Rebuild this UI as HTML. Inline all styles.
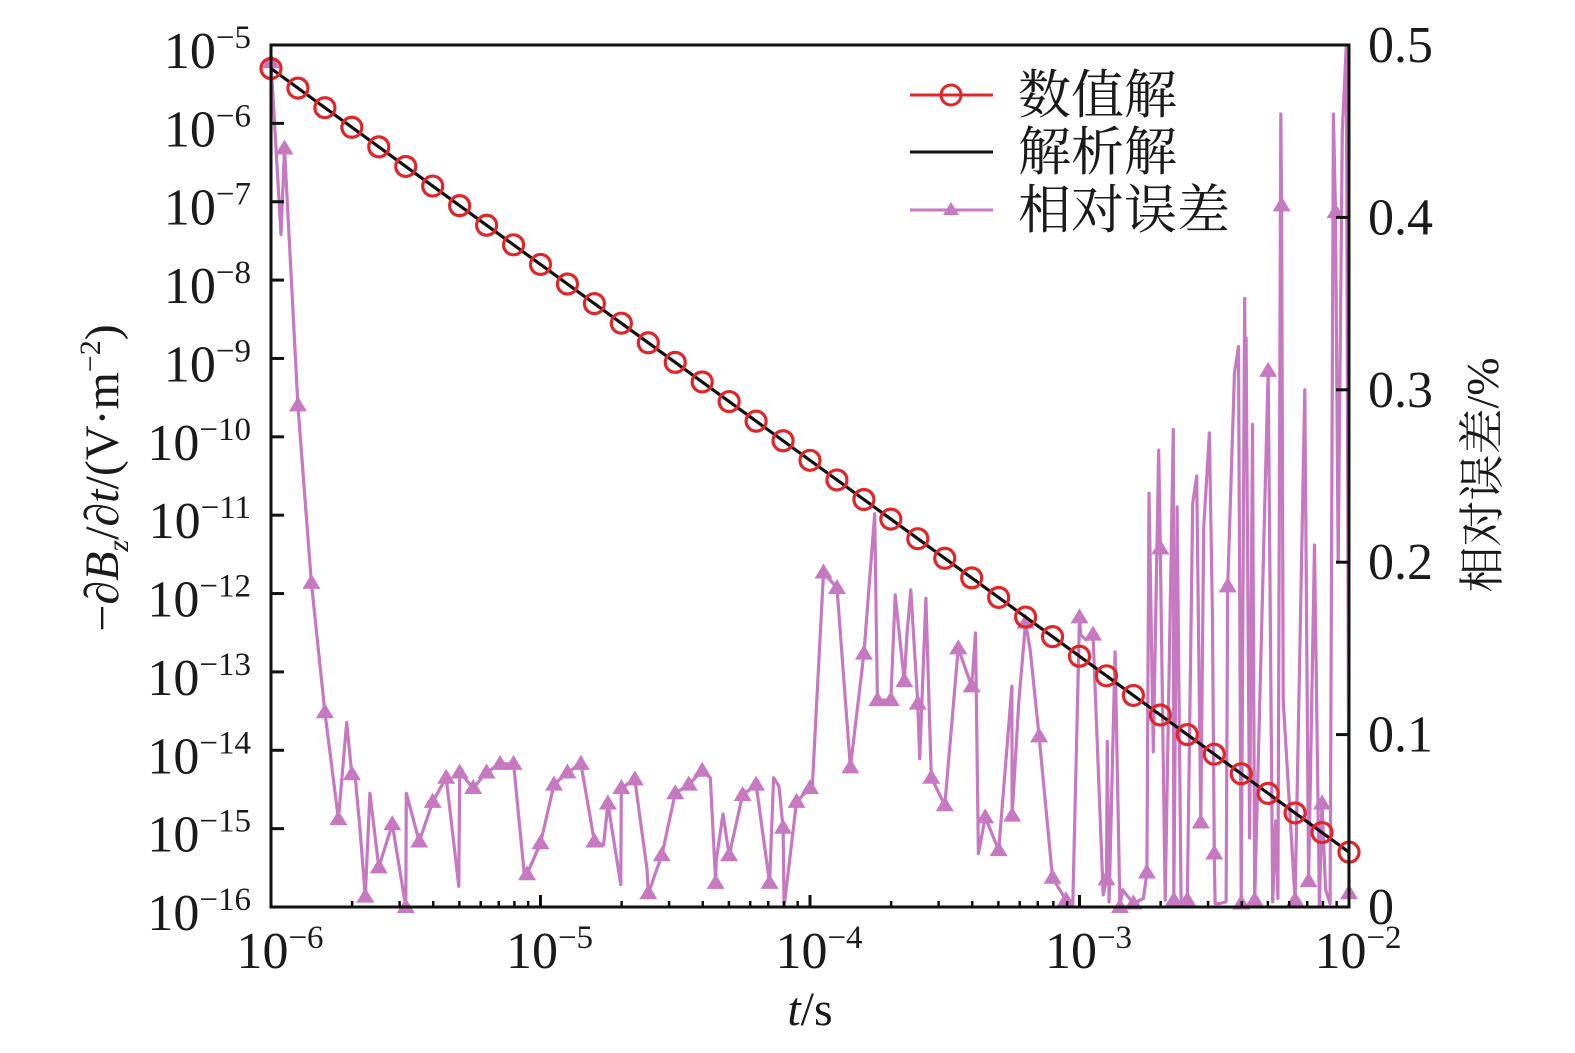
<!DOCTYPE html>
<html><head><meta charset="utf-8"><style>
html,body{margin:0;padding:0;background:#fff;}
svg{display:block;}
text{font-family:"Liberation Serif","Noto Serif CJK SC",serif;fill:#1a1a1a;}
</style></head><body>
<svg id="chart" width="1575" height="1053" viewBox="0 0 1575 1053" xmlns="http://www.w3.org/2000/svg">
<g id="grid"></g>
<g id="series"></g>
<g id="axes"></g>
<text transform="translate(118,478) rotate(-90)" text-anchor="middle" font-size="48">−∂<tspan font-style="italic">B</tspan><tspan font-style="italic" font-size="30" dy="10">z</tspan><tspan dy="-10">/∂</tspan><tspan font-style="italic">t</tspan>/(V·m<tspan font-size="30" dy="-18">−2</tspan><tspan dy="18">)</tspan></text>
<text transform="translate(1498,475) rotate(-90)" text-anchor="middle" font-size="46">相对误差/%</text>
<text x="810" y="1025" text-anchor="middle" font-size="48"><tspan font-style="italic">t</tspan>/s</text>
<g id="legend">
 <g>
  <line x1="910" y1="95" x2="993" y2="95" stroke="#e0262a" stroke-width="3"/>
  <circle cx="951" cy="95" r="10" fill="none" stroke="#e0262a" stroke-width="3"/>
  <text x="1018" y="113" font-size="53">数值解</text>
 </g>
 <g>
  <line x1="910" y1="152" x2="993" y2="152" stroke="#111" stroke-width="3"/>
  <text x="1018" y="170" font-size="53">解析解</text>
 </g>
 <g>
  <line x1="910" y1="210" x2="993" y2="210" stroke="#c678c0" stroke-width="3"/>
  <polygon points="951,202 943,215 959,215" fill="#c678c0"/>
  <text x="1018" y="228" font-size="53">相对误差</text>
 </g>
</g>
</svg>
<script>
// ---- data ----
const numLogT = [-6,-5.9,-5.8,-5.7,-5.6,-5.5,-5.4,-5.3,-5.2,-5.1,-5,-4.9,-4.8,-4.7,-4.6,-4.5,-4.4,-4.3,-4.2,-4.1,-4,-3.9,-3.8,-3.7,-3.6,-3.5,-3.4,-3.3,-3.2,-3.1,-3,-2.9,-2.8,-2.7,-2.6,-2.5,-2.4,-2.3,-2.2,-2.1,-2];
const numLogV = [-5.3,-5.55,-5.8,-6.05,-6.3,-6.55,-6.8,-7.05,-7.3,-7.55,-7.8,-8.05,-8.3,-8.55,-8.8,-9.05,-9.3,-9.55,-9.8,-10.05,-10.3,-10.55,-10.8,-11.05,-11.3,-11.55,-11.8,-12.05,-12.3,-12.55,-12.8,-13.05,-13.3,-13.55,-13.8,-14.05,-14.3,-14.55,-14.8,-15.05,-15.3];
const anaLogT = [-6,-2];
const anaLogV = [-5.3,-15.3];
const errMarkLogT = [-6,-5.95,-5.9,-5.85,-5.8,-5.75,-5.7,-5.65,-5.6,-5.55,-5.5,-5.45,-5.4,-5.35,-5.3,-5.25,-5.2,-5.15,-5.1,-5.05,-5,-4.95,-4.9,-4.85,-4.8,-4.75,-4.7,-4.65,-4.6,-4.55,-4.5,-4.45,-4.4,-4.35,-4.3,-4.25,-4.2,-4.15,-4.1,-4.05,-4,-3.95,-3.9,-3.85,-3.8,-3.75,-3.7,-3.65,-3.6,-3.55,-3.5,-3.45,-3.4,-3.35,-3.3,-3.25,-3.2,-3.15,-3.1,-3.05,-3,-2.95,-2.9,-2.85,-2.8,-2.75,-2.7,-2.65,-2.6,-2.55,-2.5,-2.45,-2.4,-2.35,-2.3,-2.25,-2.2,-2.15,-2.1,-2.05,-2];
const errMarkVal = [0.49,0.44,0.291,0.188,0.113,0.051,0.077,0.006,0.023,0.048,0,0.038,0.061,0.075,0.078,0.069,0.078,0.083,0.083,0.019,0.037,0.071,0.078,0.083,0.038,0.06,0.069,0.074,0.008,0.030,0.066,0.071,0.079,0.014,0.030,0.065,0.071,0.014,0.046,0.061,0.069,0.194,0.185,0.081,0.147,0.12,0.12,0.131,0.118,0.075,0.059,0.15,0.128,0.052,0.033,0.053,0.165,0.099,0.017,0.004,0.168,0.158,0.016,0.0,0.002,0.02,0.208,0.004,0.004,0.049,0.031,0.186,0.002,0.004,0.311,0.407,0.004,0.015,0.06,0.403,0.008];
const errExtraLogT = [-5.963,-5.719,-5.689,-5.671,-5.633,-5.498,-5.303,-5.060,-4.766,-4.702,-4.605,-4.370,-4.348,-4.323,-4.135,-4.115,-4.096,-3.991,-3.760,-3.684,-3.641,-3.626,-3.593,-3.570,-3.386,-3.375,-3.251,-3.225,-3.183,-3.025,-2.996,-2.977,-2.912,-2.897,-2.890,-2.868,-2.840,-2.763,-2.742,-2.726,-2.706,-2.682,-2.652,-2.638,-2.623,-2.580,-2.565,-2.539,-2.518,-2.507,-2.497,-2.480,-2.456,-2.425,-2.410,-2.387,-2.385,-2.382,-2.369,-2.358,-2.283,-2.272,-2.264,-2.253,-2.244,-2.164,-2.128,-2.110,-2.087,-2.070,-2.058,-2.040,-2.025,-2.010];
const errExtraVal = [0.39,0.107,0.078,0.047,0.066,0.066,0.012,0.019,0.036,0.013,0.022,0.075,0.027,0.054,0.075,0.07,0.0,0.071,0.228,0.181,0.157,0.184,0.086,0.179,0.159,0.031,0.128,0.12,0.149,0.002,0.158,0.155,0.007,0.096,0.003,0.148,0.01,0.005,0.24,0.09,0.265,0.004,0.277,0.232,0.003,0.234,0.25,0.22,0.275,0.17,0.002,0.002,0.003,0.31,0.325,0.353,0.3,0.33,0.04,0.28,0.003,0.05,0.005,0.46,0.12,0.3,0.21,0.0,0.01,0.002,0.46,0.20,0.45,0.50];
const yTickExp = [-5,-6,-7,-8,-9,-10,-11,-12,-13,-14,-15,-16];
const xTickExp = [-6,-5,-4,-3,-2];
const rTickVals = [0,0.1,0.2,0.3,0.4,0.5];
const rTickLabels = ["0","0.1","0.2","0.3","0.4","0.5"];

// ---- scales ----
const X0=271,X1=1349,Y0=45,Y1=907;
const xs = lt => X0 + (lt+6)/4*(X1-X0);
const yl = lv => Y0 + (-5-lv)/11*(Y1-Y0);
const yr = v => Y1 - v/0.5*(Y1-Y0);
const NS="http://www.w3.org/2000/svg";
function mk(tag,attrs,parent){const e=document.createElementNS(NS,tag);for(const k in attrs)e.setAttribute(k,attrs[k]);parent.appendChild(e);return e;}
const series=document.getElementById('series');
const axes=document.getElementById('axes');

const pts=[];
errMarkLogT.forEach((t,i)=>pts.push([t,errMarkVal[i]]));
errExtraLogT.forEach((t,i)=>pts.push([t,errExtraVal[i]]));
pts.sort((a,b)=>a[0]-b[0]);
const errLine=mk('polyline',{points:pts.map(p=>xs(p[0]).toFixed(1)+','+yr(p[1]).toFixed(1)).join(' '),fill:'none',stroke:'#c678c0','stroke-width':3.2,'stroke-linejoin':'round'},series);


errMarkLogT.forEach((t,i)=>{
  const x=xs(t),y=yr(errMarkVal[i]);
  const m=mk('polygon',{points:`${x},${y-9} ${x-9},${y+6} ${x+9},${y+6}`,fill:'#c678c0'},series);
  
  
});
const ana=mk('line',{x1:xs(anaLogT[0]),y1:yl(anaLogV[0]),x2:xs(anaLogT[1]),y2:yl(anaLogV[1]),stroke:'#111','stroke-width':3.2},series);


numLogT.forEach((t,i)=>{
  const c=mk('circle',{cx:xs(t),cy:yl(numLogV[i]),r:10,fill:'none',stroke:'#e0262a','stroke-width':3.2},series);
  
  
});

const fr=mk('rect',{x:X0,y:Y0,width:X1-X0,height:Y1-Y0,fill:'none',stroke:'#111','stroke-width':3},axes);


yTickExp.forEach(e=>{
  const y=yl(e);
  const tk=mk('line',{x1:X0,y1:y,x2:X0+13,y2:y,stroke:'#111','stroke-width':3},axes);
  
  
  const tx=mk('text',{x:251,y:y+23,'text-anchor':'end','font-size':52},axes);
  
  
  tx.innerHTML=`10<tspan font-size="33" dy="-20">−${-e}</tspan>`;
});
xTickExp.forEach((e,i)=>{
  const x=xs(e);
  const tk=mk('line',{x1:x,y1:Y1,x2:x,y2:Y1-12,stroke:'#111','stroke-width':3},axes);
  
  
  if(i<xTickExp.length-1){for(let m=2;m<=9;m++){
    const xm=xs(e+Math.log10(m));
    const mt=mk('line',{x1:xm,y1:Y1,x2:xm,y2:Y1-6,stroke:'#111','stroke-width':2.5},axes);
    
    
  }}
  const tx=mk('text',{x:x+9,y:968,'text-anchor':'middle','font-size':52},axes);
  
  
  tx.innerHTML=`10<tspan font-size="33" dy="-20">−${-e}</tspan>`;
});
rTickVals.forEach((v,i)=>{
  const y=yr(v);
  const tk=mk('line',{x1:X1,y1:y,x2:X1-13,y2:y,stroke:'#111','stroke-width':3},axes);
  
  
  const tx=mk('text',{x:1368,y:y+17,'font-size':52},axes);
  
  
  tx.textContent=rTickLabels[i];
});
</script>
</body></html>
